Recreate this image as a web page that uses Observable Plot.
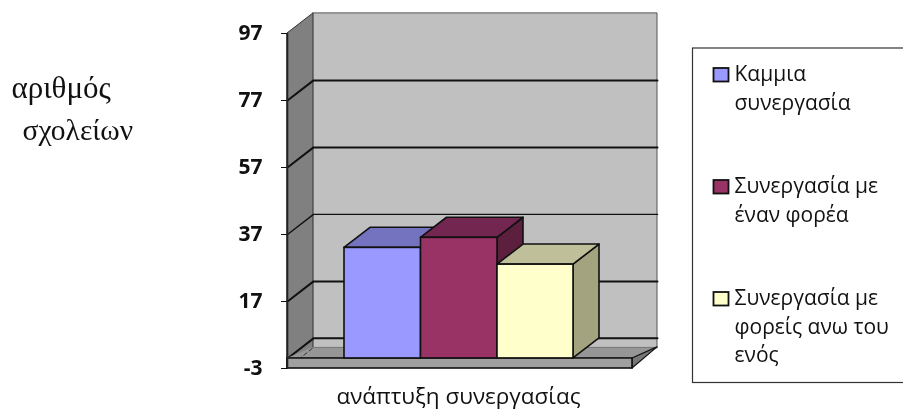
<!DOCTYPE html>
<html>
<head>
<meta charset="utf-8">
<script src="https://cdn.jsdelivr.net/npm/d3@7"></script>
<script src="https://cdn.jsdelivr.net/npm/@observablehq/plot@0.6"></script>
<style>
html,body{margin:0;padding:0;background:#fff;overflow:hidden}
svg{display:block;filter:blur(.45px)}
</style>
</head>
<body>
<div id="chart"></div>
<script>
const categories = ["Καμμια συνεργασία", "Συνεργασία με έναν φορέα", "Συνεργασία με φορείς ανω του ενός"];
const values = [33, 36, 28];
const tickValues = [-3, 17, 37, 57, 77, 97];
const gridValues = [0, 17, 37, 57, 77];
const frontColors = ["#9999ff", "#993366", "#ffffcc"];
const topColors = ["#7373bf", "#732650", "#bfbf99"];
const sideColors = ["#5c5c99", "#5c1f3d", "#a3a37f"];
const legendLines = [
  ["Καμμια", "συνεργασία"],
  ["Συνεργασία με", "έναν φορέα"],
  ["Συνεργασία με", "φορείς ανω του", "ενός"]
];
const yAxisTitle = ["αριθμός", "σχολείων"];
const xAxisTitle = "ανάπτυξη συνεργασίας";

// scale helpers: x units are one pixel wide, starting at the front axis
const W = 903, H = 410, L = 287, R = 632, T = 33, B = 368;
const yMin = -3, yMax = 97;
const X = px => px - L;
const Y = py => yMin + (B - py) * (yMax - yMin) / (B - T);
const depthX = 26, depthY = 6, floorDepthY = 3.3;
const barLeft = [X(344), X(420.5), X(497)];
const barW = [76.5, 76.5, 76];
const wallR = R - L + 25;

const pgV = (x0, x1, y0a, y0b, y1a, y1b) => [{x: x0, y1: y0a, y2: y0b}, {x: x1, y1: y1a, y2: y1b}];
const pgH = (y0, y1, x0a, x0b, x1a, x1b) => [{y: y0, x1: x0a, x2: x0b}, {y: y1, x1: x1a, x2: x1b}];
const faceV = (d, o) => Plot.areaY(d, {x: "x", y1: "y1", y2: "y2", curve: "linear", ...o});
const faceH = (d, o) => Plot.areaX(d, {y: "y", x1: "x1", x2: "x2", curve: "linear", ...o});

const marks = [];

// back wall + side wall
marks.push(faceV(pgV(depthX, wallR, yMin + depthY, yMax + depthY, yMin + depthY, yMax + depthY), {fill: "#c0c0c0", stroke: "#555", strokeWidth: 1}));
marks.push(faceV(pgV(0, depthX, yMin, yMax, yMin + depthY, yMax + depthY), {fill: "#808080", stroke: "#333", strokeWidth: 1}));

// gridlines: side wall then back wall
for (const v of gridValues) {
  marks.push(Plot.line([[0, v], [depthX, v + depthY], [wallR, v + depthY]], {x: d => d[0], y: d => d[1], stroke: "#111", strokeWidth: v === 37 ? 1.4 : 2}));
}

// floor: top, right, front
marks.push(faceH(pgH(0, floorDepthY, 0, R - L, depthX, wallR), {fill: "#969696", stroke: "none"}));
marks.push(Plot.line([[depthX, floorDepthY], [wallR, floorDepthY]], {x: d => d[0], y: d => d[1], stroke: "#777", strokeWidth: 1}));
marks.push(Plot.line([[0, yMin], [depthX, floorDepthY]], {x: d => d[0], y: d => d[1], stroke: "#333", strokeWidth: 1, strokeDasharray: "4 3"}));
marks.push(faceV(pgV(R - L, wallR, yMin, 0, floorDepthY, floorDepthY), {fill: "#777", stroke: "#111", strokeWidth: 1.2}));
marks.push(Plot.rectY([{}], {x1: 0, x2: R - L, y1: yMin, y2: 0, fill: "#a0a0a0", stroke: "#111", strokeWidth: 1.6}));
marks.push(Plot.ruleX([0], {y1: yMin, y2: yMax, stroke: "#222", strokeWidth: 1.6}));

// bars
values.forEach((v, i) => {
  const x0 = barLeft[i], x1 = x0 + barW[i];
  const st = {stroke: "#111", strokeWidth: 1.6};
  marks.push(faceV(pgV(x1, x1 + depthX, 0, v, depthY, v + depthY), {fill: sideColors[i], ...st}));
  marks.push(faceH(pgH(v, v + depthY, x0, x1, x0 + depthX, x1 + depthX), {fill: topColors[i], ...st}));
  marks.push(Plot.rectY([{}], {x1: x0, x2: x1, y1: 0, y2: v, fill: frontColors[i], ...st}));
});

// y axis
marks.push(Plot.axisY(tickValues, {anchor: "left", tickSize: 6, tickPadding: 19, label: null, fontSize: 21, fontWeight: 700, fontFamily: "Open Sans", color: "#111", tickFormat: d => String(d)}));

// titles
marks.push(Plot.text([xAxisTitle], {x: X(458), y: Y(396.5), text: d => d, fontSize: 22.5, fontFamily: "Open Sans", fontWeight: 500, fill: "#111", textAnchor: "middle", lineAnchor: "middle"}));
marks.push(Plot.text([yAxisTitle[0]], {x: X(11), y: Y(88), text: d => d, fontSize: 31, fontFamily: "Liberation Serif", fill: "#111", textAnchor: "start", lineAnchor: "middle"}));
marks.push(Plot.text([yAxisTitle[1]], {x: X(22), y: Y(130), text: d => d, fontSize: 29.5, fontFamily: "Liberation Serif", fill: "#111", textAnchor: "start", lineAnchor: "middle"}));

// legend
marks.push(Plot.rectY([{}], {x1: X(692.5), x2: X(920), y1: Y(48), y2: Y(382.5), fill: "#fff", stroke: "#333", strokeWidth: 1.2}));
const swatchTop = [68, 180, 292];
const firstLine = [74, 186, 298];
categories.forEach((c, i) => {
  marks.push(Plot.rectY([{}], {x1: X(713.5), x2: X(728.5), y1: Y(swatchTop[i]), y2: Y(swatchTop[i] + 13.5), fill: frontColors[i], stroke: "#111", strokeWidth: 1.8}));
  legendLines[i].forEach((line, k) => {
    marks.push(Plot.text([line], {x: X(734), y: Y(firstLine[i] + k * 28.3), text: d => d, fontSize: 21, fontWeight: 500, fontFamily: "Open Sans", fill: "#111", textAnchor: "start", lineAnchor: "middle"}));
  });
});

const plot = Plot.plot({
  width: W, height: H,
  marginLeft: L, marginRight: W - R, marginTop: T, marginBottom: H - B,
  style: {background: "#fff", overflow: "hidden"},
  x: {domain: [0, R - L], axis: null},
  y: {domain: [yMin, yMax], axis: null},
  marks
});
document.getElementById("chart").append(plot);
</script>
</body>
</html>
